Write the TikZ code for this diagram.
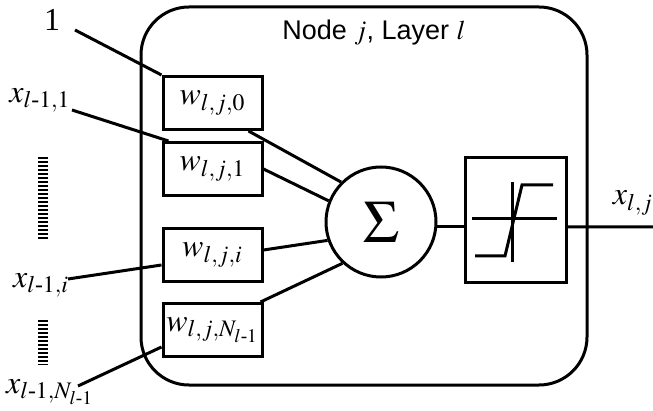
\documentclass[tikz,border=0pt]{standalone}
\usepackage{amsmath}
\usepackage{mathptmx}
\usepackage{fontspec}
\setmainfont{Liberation Serif}
\newfontfamily\titlefont{Liberation Sans}
\usetikzlibrary{calc}
\tikzset{
  wbox/.style={draw,minimum width=49.5pt,minimum height=26.5pt,inner sep=0pt},
  lbl/.style={inner sep=1pt},
  dotbar/.style={line width=5pt,dash pattern=on 1pt off 1pt},
}
\begin{document}
\begin{tikzpicture}[x=0.5pt,y=-0.5pt,line width=1.5pt,font=\fontsize{16}{19}\selectfont]
\useasboundingbox (0,0) rectangle (653,411);
\node[draw,rounded corners=24pt,minimum width=223pt,minimum height=189pt] (cell) at (364,196) {};
\node[font=\titlefont\fontsize{13.5}{16}\selectfont] (title) at (374,33) {Node $j$, Layer $l$};
% weights
\node[wbox] (w0) at (212.5,103) {$w_{l,j,0}$};
\node[wbox] (w1) at (212.5,169) {$w_{l,j,1}$};
\node[wbox] (wi) at (212.5,255) {$w_{l,j,i}$};
\node[wbox] (wN) at (212.5,330) {$w_{l,j,N_{l\text{-}1}}$};
\node[draw,circle,minimum size=55pt,inner sep=0pt] (sig) at (381,222) {\fontsize{30}{30}\selectfont$\Sigma$};
\node[draw,minimum width=50.5pt,minimum height=62.5pt] (act) at (515.5,220.5) {};
% inputs
\node[lbl] (one) at (52,20) {1};
\node[lbl] (x1) at (40,100) {$x_{l\text{-}1,1}$};
\node[lbl] (xi) at (41,285) {$x_{l\text{-}1,i}$};
\node[lbl] (xN) at (50,392) {$x_{l\text{-}1,N_{l\text{-}1}}$};
\node[lbl] (out) at (633,203) {$x_{l,j}$};
\coordinate (s0) at (75,30);
\coordinate (s1) at (72,110);
\coordinate (si) at (68,279);
\coordinate (sN) at (78,386);
\coordinate (o) at (653,227);
\draw[dotbar] (43,157)--(43,240);
\draw[dotbar] (43,320)--(43,365);
\draw (s0)--(w0.north west);
\draw (s1)--($(w1.north west)+(7,0)$);
\draw (si)--($(wi.west)+(0,10)$);
\draw (sN)--($(wN.west)+(0,17)$);
\draw ($(w0.south east)+(-15,0)$)--(sig.135);
\draw (w1.east)--(sig.158);
\draw ($(wi.east)+(0,-5)$)--(sig.199);
\draw ($(wN.north east)+(-3,0)$)--(sig.227);
\draw (sig.-5)--(act.west |- sig.-5);
\draw (act.east |- sig.-5)--(o);
% transfer function
\draw (472,219)--(557,219);
\draw (512,182)--(512,262);
\draw (475,256)--(505,256)--(522,185)--(553,185);
\end{tikzpicture}
\end{document}
